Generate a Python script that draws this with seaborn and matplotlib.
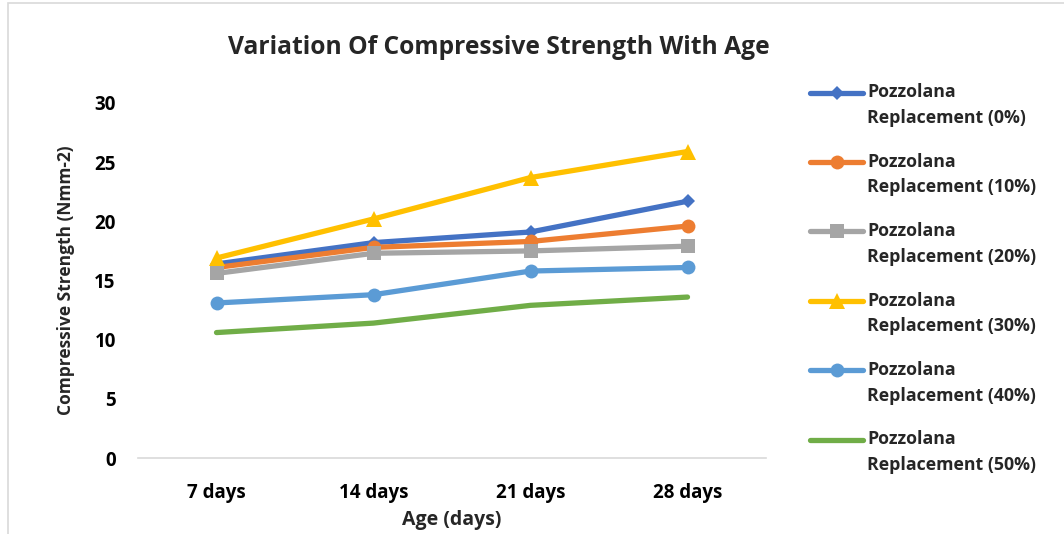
import matplotlib
matplotlib.use("Agg")
import matplotlib.pyplot as plt
import seaborn as sns
import pandas as pd
from matplotlib.patches import Rectangle
from matplotlib.lines import Line2D
from matplotlib.legend_handler import HandlerLine2D

ages = ["7 days", "14 days", "21 days", "28 days"]
series_names = [
    "Pozzolana\nReplacement (0%)",
    "Pozzolana\nReplacement (10%)",
    "Pozzolana\nReplacement (20%)",
    "Pozzolana\nReplacement (30%)",
    "Pozzolana\nReplacement (40%)",
    "Pozzolana\nReplacement (50%)",
]
strength_0 = [16.4, 18.2, 19.1, 21.7]
strength_10 = [16.1, 17.8, 18.3, 19.6]
strength_20 = [15.6, 17.3, 17.5, 17.9]
strength_30 = [16.9, 20.2, 23.7, 25.9]
strength_40 = [13.1, 13.8, 15.8, 16.1]
strength_50 = [10.6, 11.4, 12.9, 13.6]

all_values = [strength_0, strength_10, strength_20, strength_30, strength_40, strength_50]
colors = ["#4472C4", "#ED7D31", "#A5A5A5", "#FFC000", "#5B9BD5", "#70AD47"]
markers = ["D", "o", "s", "^", "o", None]
msizes = [7, 10, 10, 11, 10, 0]


class FirstLineHandler(HandlerLine2D):
    """Legend line drawn level with the first line of a two-line label."""

    def __init__(self, shift, **kw):
        super().__init__(**kw)
        self.shift = shift

    def create_artists(self, legend, orig_handle, xdescent, ydescent, width, height,
                       fontsize, trans):
        arts = super().create_artists(legend, orig_handle, xdescent, ydescent, width,
                                      height, fontsize, trans)
        for a in arts:
            a.set_ydata([y + self.shift for y in a.get_ydata()])
        return arts


sns.set_theme(style="white")
plt.rcParams["font.family"] = ["Open Sans", "DejaVu Sans"]
plt.rcParams["font.weight"] = "bold"

fig = plt.figure(figsize=(10.64, 5.34), dpi=100)
W, H = 1064, 534
ax = fig.add_axes([138 / W, (H - 458) / H, (766 - 138) / W, (458 - 103) / H])

# light frame around the chart area
fig.patches.append(Rectangle((8 / W, -0.1), 1.2, (H - 3) / H + 0.1, transform=fig.transFigure,
                             fill=False, edgecolor="#d9d9d9", linewidth=1.2))

for name, vals, c, m, ms in zip(series_names, all_values, colors, markers, msizes):
    df = pd.DataFrame({"Age": ages, "Strength": vals})
    sns.lineplot(data=df, x="Age", y="Strength", ax=ax, color=c, linewidth=3.8,
                 marker=m if m else "", markersize=ms, markeredgewidth=0,
                 label=name, sort=False)

ax.set_xlim(-0.5, 3.5)
ax.set_ylim(0, 30)
ax.set_yticks([0, 5, 10, 15, 20, 25, 30])
for s in ["top", "right", "left"]:
    ax.spines[s].set_visible(False)
ax.spines["bottom"].set_color("#d9d9d9")
ax.spines["bottom"].set_linewidth(1.2)
ax.tick_params(axis="both", length=0, labelsize=13.5, colors="black")
ax.tick_params(axis="y", pad=16)
ax.tick_params(axis="x", pad=18)
for lab in ax.get_xticklabels() + ax.get_yticklabels():
    lab.set_fontweight("bold")

ax.set_xlabel("Age (days)", fontsize=14, fontweight="bold", labelpad=5)
ax.set_ylabel("Compressive Strength (Nmm-2)", fontsize=12.5, fontweight="bold", labelpad=14)

fig.text(499 / W, 1 - 47 / H, "Variation Of Compressive Strength With Age",
         ha="center", va="center", fontsize=17.7, fontweight="bold")

handles, labels = ax.get_legend_handles_labels()
ax.get_legend().remove()
leg = fig.legend(handles, labels, loc="upper left", bbox_to_anchor=(803 / W, 1 - 76 / H),
                 frameon=False, fontsize=12.8, handlelength=3.0, labelspacing=1.45,
                 handletextpad=0.2, borderaxespad=0,
                 handler_map={Line2D: FirstLineHandler(shift=9.5)})
for t in leg.get_texts():
    t.set_fontweight("bold")
    t.set_linespacing(1.55)

fig.savefig("out.png", dpi=100)
